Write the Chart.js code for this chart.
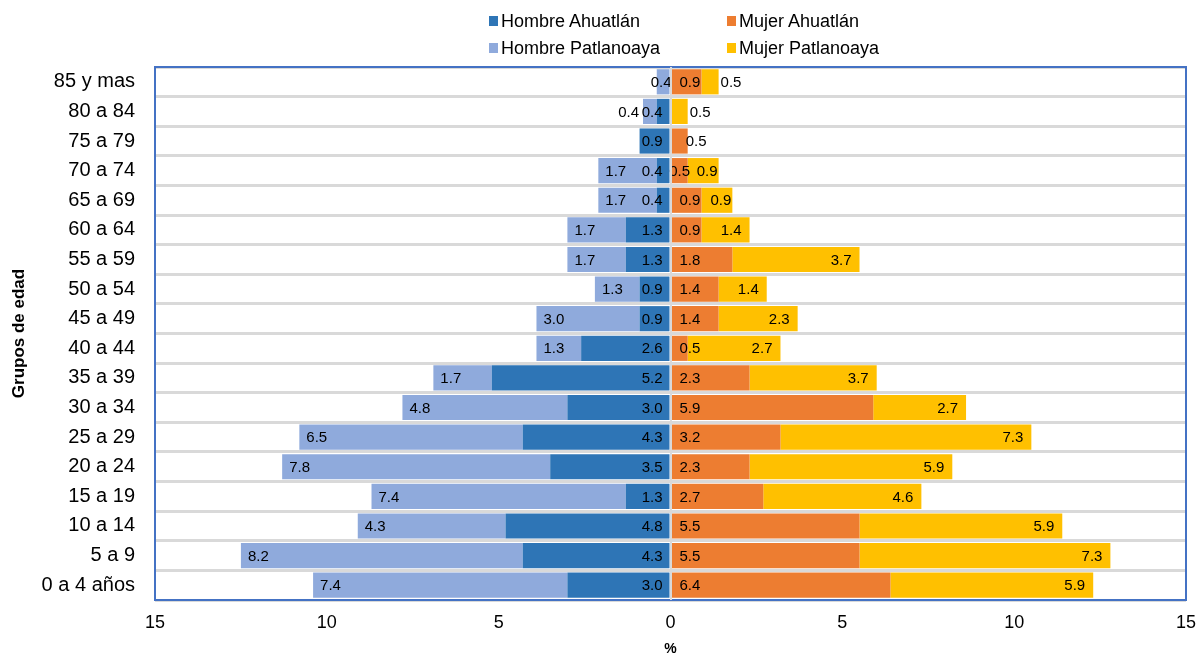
<!DOCTYPE html>
<html>
<head>
<meta charset="utf-8">
<script src="https://cdn.jsdelivr.net/npm/chart.js@4.4.1/dist/chart.umd.min.js"></script>
<style>
  html, body { margin: 0; padding: 0; background: #fff; }
  #wrap { position: relative; width: 1197px; height: 655px; }
  #legend { position: absolute; left: 0; top: 0; width: 1197px; height: 60px;
            font-family: 'Liberation Sans', Arial, sans-serif; font-size: 18px; color: #000; }
  .item { position: absolute; display: flex; align-items: center; white-space: nowrap; }
  .box { width: 9px; height: 10px; margin-right: 3px; }
</style>
</head>
<body>
<div id="wrap">
  <canvas id="c" width="1197" height="655"></canvas>
  <div id="legend"></div>
</div>
<script>
// Age groups, oldest at the top
const ageGroups = ['85 y mas','80 a 84','75 a 79','70 a 74','65 a 69','60 a 64','55 a 59','50 a 54','45 a 49',
  '40 a 44','35 a 39','30 a 34','25 a 29','20 a 24','15 a 19','10 a 14','5 a 9','0 a 4 años'];

// Percentages per group (null = no bar)
const hombreAhuatlan    = [null,0.4,0.9,0.4,0.4,1.3,1.3,0.9,0.9,2.6,5.2,3.0,4.3,3.5,1.3,4.8,4.3,3.0];
const hombrePatlanoaya  = [0.4,0.4,null,1.7,1.7,1.7,1.7,1.3,3.0,1.3,1.7,4.8,6.5,7.8,7.4,4.3,8.2,7.4];
const mujerAhuatlan     = [0.9,null,0.5,0.5,0.9,0.9,1.8,1.4,1.4,0.5,2.3,5.9,3.2,2.3,2.7,5.5,5.5,6.4];
const mujerPatlanoaya   = [0.5,0.5,null,0.9,0.9,1.4,3.7,1.4,2.3,2.7,3.7,2.7,7.3,5.9,4.6,5.9,7.3,5.9];

const xTicks = [-15,-10,-5,0,5,10,15];

const FONT = "'Liberation Sans', Arial, sans-serif";
const neg = arr => arr.map(v => v == null ? null : -v);

// Dataset order sets the stacking: Ahuatlán next to the axis, Patlanoaya outside
const datasets = [
  { label: 'Hombre Ahuatlán',   data: neg(hombreAhuatlan),   backgroundColor: '#2E75B6', legendPos: [489, 21] },
  { label: 'Mujer Ahuatlán',    data: mujerAhuatlan,         backgroundColor: '#ED7D31', legendPos: [727, 21] },
  { label: 'Hombre Patlanoaya', data: neg(hombrePatlanoaya), backgroundColor: '#8FAADC', legendPos: [489, 48] },
  { label: 'Mujer Patlanoaya',  data: mujerPatlanoaya,       backgroundColor: '#FFC000', legendPos: [727, 48] }
];

// Plot frame
const framePlugin = {
  id: 'frame',
  afterDatasetsDraw(chart) {
    const { ctx, chartArea: a } = chart;
    ctx.save();
    ctx.strokeStyle = '#4472C4';
    ctx.lineWidth = 2;
    ctx.strokeRect(a.left, a.top, a.right - a.left, a.bottom - a.top);
    ctx.restore();
  }
};

// Value labels: inner segment labels sit by the zero line, outer ones by the bar end
const valueLabels = {
  id: 'valueLabels',
  afterDatasetsDraw(chart) {
    const ctx = chart.ctx;
    const x0 = chart.scales.x.getPixelForValue(0);
    ctx.save();
    ctx.font = '15px ' + FONT;
    ctx.fillStyle = '#000';
    ctx.textBaseline = 'middle';

    const seg = (di, i) => {
      const v = chart.data.datasets[di].data[i];
      if (v == null) return null;
      const el = chart.getDatasetMeta(di).data[i];
      const text = Math.abs(v).toFixed(1);
      return { text, w: ctx.measureText(text).width, el,
               left: Math.min(el.x, el.base), right: Math.max(el.x, el.base),
               bw: Math.abs(el.x - el.base), y: el.y + 1 };
    };
    const put = (s, x) => { ctx.textAlign = 'left'; ctx.fillText(s.text, x, s.y); return [x, x + s.w]; };

    ageGroups.forEach((_, i) => {
      [[0, 2, -1], [1, 3, 1]].forEach(([innerIdx, outerIdx, dir]) => {
        const inner = seg(innerIdx, i), outer = seg(outerIdx, i);
        let outerBox = null;
        if (outer) {
          const o = outer;
          if (o.w + 16 <= o.bw) {
            outerBox = put(o, dir < 0 ? o.left + 7 : o.right - 8 - o.w);
          } else if (o.w + 2 <= o.bw) {
            outerBox = put(o, dir < 0 ? o.left + 1 : o.right - 1 - o.w);
          } else if (!inner && dir < 0) {
            outerBox = put(o, (o.left + o.right) / 2 - o.w / 2 - 2);
          } else {
            outerBox = put(o, dir < 0 ? o.left - 4 - o.w : o.right + 2);
          }
        }
        if (inner) {
          const n = inner;
          if (!outer && n.w + 9 > n.bw) {
            put(n, dir < 0 ? n.left - 2 - n.w : n.right - 2);
          } else {
            let x = dir < 0 ? x0 - 8 - n.w : x0 + 9;
            if (outerBox && x < outerBox[1] && x + n.w > outerBox[0]) {
              x = (n.left + n.right) / 2 - n.w / 2;
            }
            put(n, x);
          }
        }
      });
    });
    ctx.restore();
  }
};

const chart = new Chart(document.getElementById('c'), {
  type: 'bar',
  data: {
    labels: ageGroups,
    datasets: datasets.map(d => ({
      label: d.label, data: d.data, backgroundColor: d.backgroundColor,
      borderWidth: 0, barPercentage: 0.85, categoryPercentage: 1
    }))
  },
  options: {
    indexAxis: 'y',
    responsive: false,
    animation: false,
    layout: { padding: { top: 67, right: 11, left: 0, bottom: 0 } },
    plugins: { legend: { display: false }, tooltip: { enabled: false } },
    scales: {
      x: {
        stacked: true,
        min: -15, max: 15,
        afterBuildTicks: s => { s.ticks = xTicks.map(v => ({ value: v })); },
        afterFit: s => { s.height = 55; s.paddingLeft = 0; s.paddingRight = 0; },
        ticks: {
          callback: v => Math.abs(v),
          font: { family: FONT, size: 18 },
          color: '#000',
          padding: 12,
          maxRotation: 0
        },
        grid: {
          z: 1,
          drawTicks: false,
          lineWidth: 2,
          color: c => (c.tick && c.tick.value === 0) ? '#D9D9D9' : 'rgba(0,0,0,0)'
        },
        border: { display: false },
        title: {
          display: true, text: '%',
          font: { family: FONT, size: 14, weight: 'bold' },
          color: '#000',
          padding: { top: 0, bottom: -3 }
        }
      },
      y: {
        stacked: true,
        afterFit: s => { s.width = 155; },
        ticks: {
          font: { family: FONT, size: 20 },
          color: '#000',
          padding: 20
        },
        grid: {
          offset: true,
          drawTicks: false,
          lineWidth: 3,
          color: '#D9D9D9'
        },
        border: { display: false },
        title: {
          display: true, text: 'Grupos de edad',
          font: { family: FONT, size: 17, weight: 'bold' },
          color: '#000',
          padding: { top: 9, bottom: 0 }
        }
      }
    }
  },
  plugins: [valueLabels, framePlugin]
});

// Two-row legend built from the datasets
const legend = document.getElementById('legend');
datasets.forEach(d => {
  const item = document.createElement('div');
  item.className = 'item';
  item.style.left = d.legendPos[0] + 'px';
  item.style.top = (d.legendPos[1] - 11) + 'px';
  item.style.height = '22px';
  const box = document.createElement('span');
  box.className = 'box';
  box.style.background = d.backgroundColor;
  const txt = document.createElement('span');
  txt.textContent = d.label;
  item.appendChild(box);
  item.appendChild(txt);
  legend.appendChild(item);
});
</script>
</body>
</html>
